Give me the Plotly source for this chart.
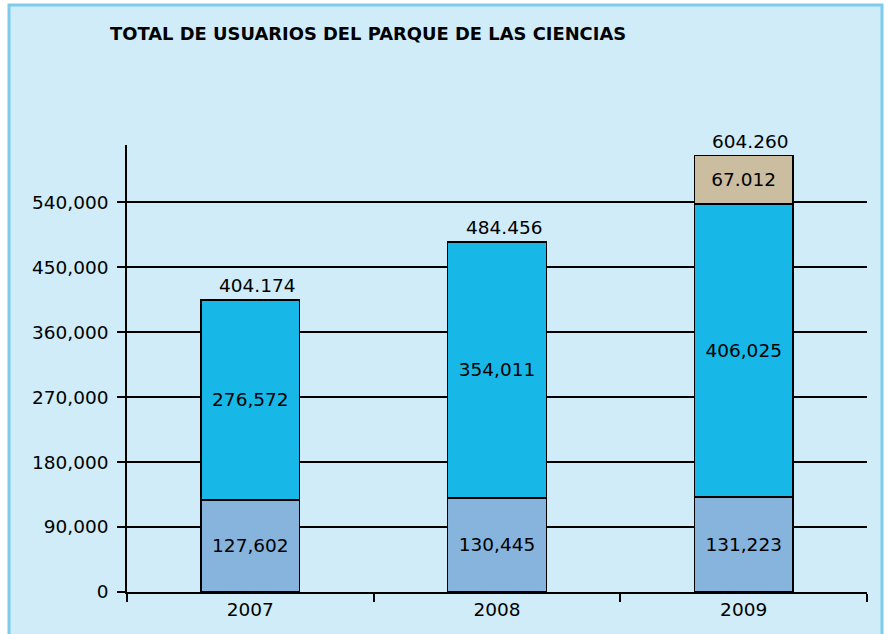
import plotly.graph_objects as go

years = ["2007", "2008", "2009"]
base_users = [127602, 130445, 131223]
mid_users = [276572, 354011, 406025]
top_users = [0, 0, 67012]
totals = [404174, 484456, 604260]
base_labels = ["127,602", "130,445", "131,223"]
mid_labels = ["276,572", "354,011", "406,025"]
top_labels = ["", "", "67.012"]
total_labels = ["404.174", "484.456", "604.260"]
y_ticks = [0, 90000, 180000, 270000, 360000, 450000, 540000]

FONT = "DejaVu Sans"
W, H = 885, 634
L, R, T, B = 127, 18, 145, 42
pw, ph = W - L - R, H - T - B

def px_x(p):
    return (p - L) / pw

def px_y(p):
    return (H - B - p) / ph

fig = go.Figure()
line = dict(color="black", width=1.5)
for vals, labs, col in [(base_users, base_labels, "#86b4dc"),
                        (mid_users, mid_labels, "#17b8e8"),
                        (top_users, top_labels, "#cbbd9f")]:
    fig.add_trace(go.Bar(x=years, y=vals, text=labs, textposition="inside",
                         insidetextanchor="middle", constraintext="none",
                         marker=dict(color=col, line=line), hoverinfo="skip",
                         textfont=dict(family=FONT, size=18.5, color="black"), width=0.4))

for i, (tot, lab) in enumerate(zip(totals, total_labels)):
    fig.add_annotation(x=i, y=tot, text=lab, showarrow=False, yanchor="bottom",
                       xshift=7, yshift=2, font=dict(family=FONT, size=18.5, color="black"))

fig.add_annotation(xref="paper", yref="paper", x=px_x(108), y=px_y(33), xanchor="left",
                   yanchor="middle", showarrow=False,
                   text="<b>TOTAL DE USUARIOS DEL PARQUE DE LAS CIENCIAS</b>",
                   font=dict(family=FONT, size=17.9, color="black"))

fig.add_shape(type="rect", xref="paper", yref="paper", layer="below",
              x0=px_x(9), x1=px_x(882), y0=px_y(5), y1=px_y(660),
              fillcolor="#cfecf8", line=dict(color="#7ecbeb", width=3))

fig.update_layout(
    width=W, height=H, barmode="stack", showlegend=False,
    margin=dict(l=L, r=R, t=T, b=B, autoexpand=False),
    paper_bgcolor="white", plot_bgcolor="rgba(0,0,0,0)",
    font=dict(family=FONT, size=18, color="black"),
)
fig.update_xaxes(type="category", tickson="boundaries", ticks="outside", ticklen=8,
                 tickwidth=1.5, tickcolor="black", showline=True, linecolor="black",
                 linewidth=1.5, showgrid=False, tickangle=0, automargin=False,
                 tickfont=dict(family=FONT, size=18.5))
fig.update_yaxes(range=[0, 619000], tickvals=y_ticks, tickformat=",", ticks="outside",
                 ticklen=8, tickwidth=1.5, tickcolor="black", showline=True,
                 linecolor="black", linewidth=1.5, showgrid=True, gridcolor="black",
                 gridwidth=1.5, zeroline=False, automargin=False, ticklabelstandoff=5,
                 tickfont=dict(family=FONT, size=18.5))

fig.write_html("out.html", config={"displayModeBar": False},
               post_script="document.body.style.margin='0';")
